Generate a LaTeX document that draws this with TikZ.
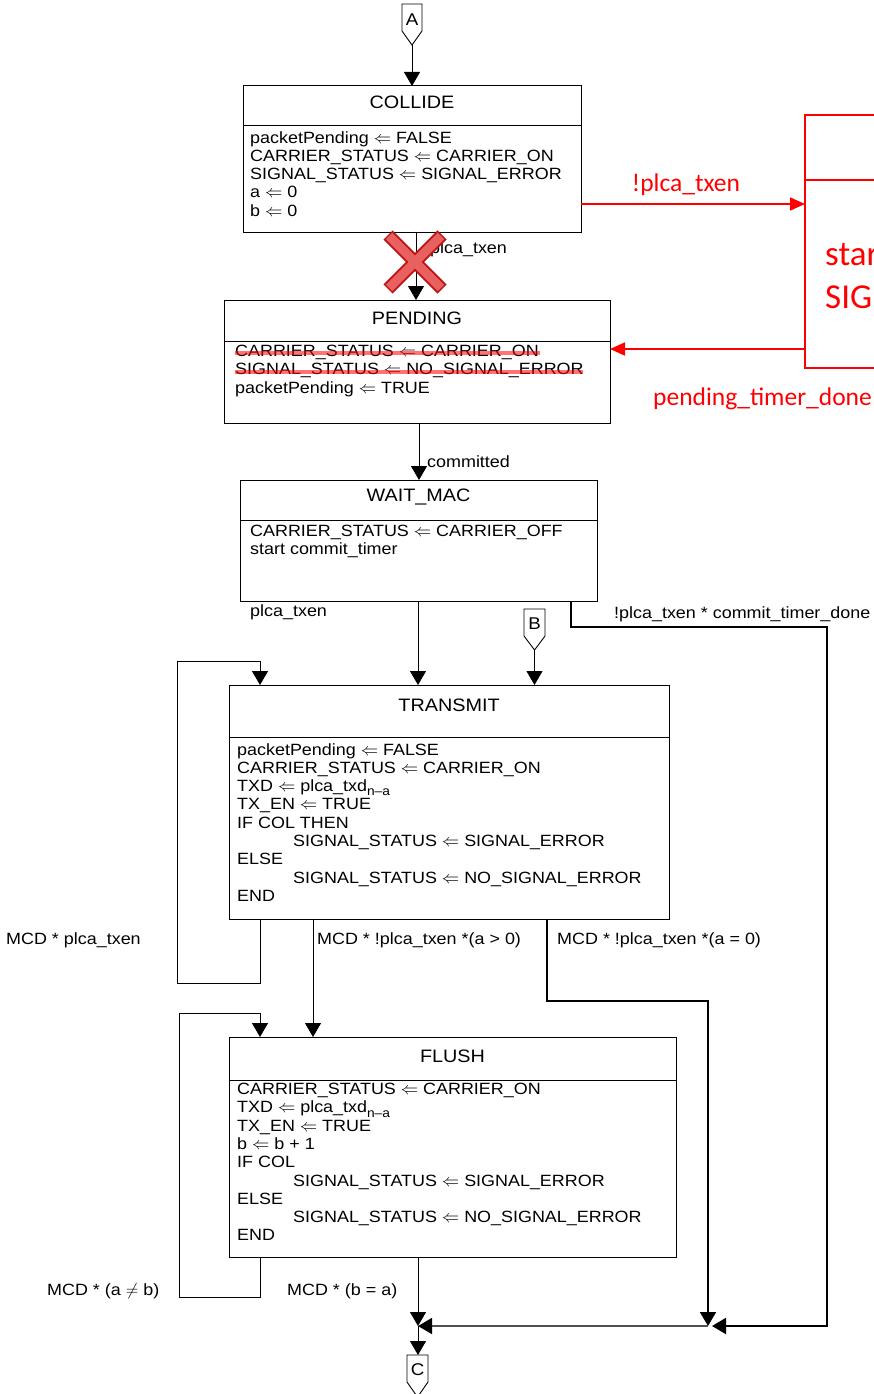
\documentclass[tikz,border=0pt]{standalone}
\usepackage{fontspec}
\setmainfont{Liberation Sans}[FakeStretch=1.1]
\newfontfamily\redfont{Carlito}
\usetikzlibrary{arrows.meta}
\newcommand{\la}{\ensuremath{\Leftarrow}}
\newcommand{\sub}[1]{\raisebox{-0.5ex}{\fontsize{12.5}{12.5}\selectfont #1}}
\definecolor{xout}{RGB}{190,20,20}
\definecolor{xin}{RGB}{232,96,96}
\definecolor{jgray}{RGB}{80,80,80}
\tikzset{
  statebox/.style 2 args={draw, line width=1pt, inner sep=0pt, outer sep=0pt, minimum width=#1, minimum height=#2},
  divider/.style={line width=1pt},
  title/.style={font=\fontsize{18}{18}\selectfont, inner sep=0pt},
  body/.style={font=\fontsize{16.3}{18.3}\selectfont, align=left, inner sep=0pt, anchor=north west},
  lbl/.style={font=\fontsize{16.3}{18}\selectfont, inner sep=0pt, anchor=west},
  arr/.style={line width=0.9pt, -{Triangle[length=14pt,width=16pt]}},
  thickarr/.style={line width=2pt, -{Triangle[length=14pt,width=16pt]}},
  redarr/.style={draw=red, line width=1.8pt, -{Triangle[length=15pt,width=13pt]}},
  redlbl/.style={text=red, font=\redfont\fontsize{25.5}{26}\selectfont, inner sep=0pt},
  redbig/.style={text=red, font=\redfont\fontsize{35}{36}\selectfont, inner sep=0pt, anchor=west},
  strike/.style={draw=red, opacity=0.55, line width=3.5pt},
  offpage/.style={draw, line width=0.9pt, fill=white},
  offtext/.style={font=\fontsize{17}{17}\selectfont, inner sep=0pt},
}
\begin{document}
\begin{tikzpicture}[x=1pt,y=-1pt]
\useasboundingbox (0,0) rectangle (874,1394);
\clip (0,0) rectangle (874,1394);

% ---- connector A
\draw[offpage] (402,4) -- (422,4) -- (422,31) -- (412,45) -- (402,31) -- cycle;
\node[offtext] (A) at (412,20) {A};
\coordinate (Atip) at (412,45);

% ---- COLLIDE
\node[statebox={338}{146}] (collide) at (412,159) {};
\draw[divider] (collide.west |- 0,126) -- (collide.east |- 0,126);
\node[title] (collideT) at (412,102) {COLLIDE};
\node[body] (collideB) at (250,131) {packetPending \la{} FALSE\\CARRIER\_STATUS \la{} CARRIER\_ON\\SIGNAL\_STATUS \la{} SIGNAL\_ERROR\\a \la{} 0\\b \la{} 0};

% ---- red box (cut by the page edge)
\node[statebox={295}{253}, draw=red, line width=1.8pt] (redbox) at (952.5,241.5) {};
\draw[draw=red, line width=1.8pt] (redbox.west |- 0,180) -- (redbox.east |- 0,180);
\node[redbig] (redS) at (825,255) {star};
\node[redbig] (redG) at (825,297) {SIG};

% ---- PENDING
\node[statebox={386}{123}] (pending) at (417,361.5) {};
\draw[divider] (pending.west |- 0,341) -- (pending.east |- 0,341);
\node[title] (pendingT) at (417,318) {PENDING};
\node[body] (pendingB) at (235,345) {CARRIER\_STATUS \la{} CARRIER\_ON\\SIGNAL\_STATUS \la{} NO\_SIGNAL\_ERROR\\packetPending \la{} TRUE};
\draw[strike] (235,353) -- (540,353);
\draw[strike] (235,372) -- (583,372);

% ---- WAIT_MAC
\node[statebox={357}{121}] (wait) at (418.5,540.5) {};
\draw[divider] (wait.west |- 0,520) -- (wait.east |- 0,520);
\node[title] (waitT) at (418.5,497) {WAIT\_MAC};
\node[body] (waitB) at (250,525) {CARRIER\_STATUS \la{} CARRIER\_OFF\\start commit\_timer};

% ---- connector B
\draw[offpage] (524,609) -- (545,609) -- (545,636) -- (534.5,650) -- (524,636) -- cycle;
\node[offtext] (B) at (534.5,624) {B};
\coordinate (Btip) at (534.5,650);

% ---- TRANSMIT
\node[statebox={440}{234}] (transmit) at (449,802) {};
\draw[divider] (transmit.west |- 0,737) -- (transmit.east |- 0,737);
\node[title] (transmitT) at (449,705) {TRANSMIT};
\node[body] (transmitB) at (237,743) {packetPending \la{} FALSE\\CARRIER\_STATUS \la{} CARRIER\_ON\\TXD \la{} plca\_txd\sub{n--a}\\TX\_EN \la{} TRUE\\IF COL THEN\\\hspace*{56pt}SIGNAL\_STATUS \la{} SIGNAL\_ERROR\\ELSE\\\hspace*{56pt}SIGNAL\_STATUS \la{} NO\_SIGNAL\_ERROR\\END};

% ---- FLUSH
\node[statebox={447}{220}] (flush) at (452.5,1147) {};
\draw[divider] (flush.west |- 0,1080) -- (flush.east |- 0,1080);
\node[title] (flushT) at (452.5,1056) {FLUSH};
\node[body] (flushB) at (237,1083) {CARRIER\_STATUS \la{} CARRIER\_ON\\TXD \la{} plca\_txd\sub{n--a}\\TX\_EN \la{} TRUE\\b \la{} b + 1\\IF COL\\\hspace*{56pt}SIGNAL\_STATUS \la{} SIGNAL\_ERROR\\ELSE\\\hspace*{56pt}SIGNAL\_STATUS \la{} NO\_SIGNAL\_ERROR\\END};

% ---- junctions and connector C
\coordinate (J1) at (708,1326);
\coordinate (J1r) at (712,1326);
\coordinate (J2) at (418,1326);
\draw[offpage] (407,1355) -- (428,1355) -- (428,1382) -- (417.5,1397) -- (407,1382) -- cycle;
\node[offtext] (C) at (417.5,1370) {C};
\coordinate (Ctop) at (418,1355);

% ---- connectors
\draw[arr] (Atip) -- (collide.north);
\draw[arr] (collide.south -| 416,0) -- (pending.north -| 416,0);
\draw[redarr] (collide.east |- 0,204) -- (redbox.west |- 0,204);
\draw[redarr] (redbox.west |- 0,349) -- (pending.east |- 0,349);
\draw[arr] (pending.south -| 419,0) -- (wait.north -| 419,0);
\draw[arr] (wait.south -| 418,0) -- (transmit.north -| 418,0);
\draw[arr] (Btip) -- (transmit.north -| Btip);
\draw[thickarr] (wait.south -| 571,0) |- (827,627) |- (J1r);
\draw[arr] (transmit.south -| 260,0) |- (177,983) |- (260,661) -- (transmit.north -| 260,0);
\draw[arr] (transmit.south -| 313,0) -- (flush.north -| 313,0);
\draw[thickarr] (transmit.south -| 547,0) |- (708,1001) -- (J1);
\draw[arr] (flush.south -| 260,0) |- (179,1297) |- (260,1013) -- (flush.north -| 260,0);
\draw[arr] (flush.south -| J2) -- (J2);
\draw[line width=1.4pt, draw=jgray, -{Triangle[length=14pt,width=16pt,color=black]}] (J1) -- (J2);
\draw[arr] (J2) -- (Ctop);

% ---- labels
\node[lbl] (l1) at (425,249) {!plca\_txen};
\node[lbl] (l2) at (427,462) {committed};
\node[lbl] (l3) at (250,612) {plca\_txen};
\node[lbl] (l4) at (614,614) {!plca\_txen * commit\_timer\_done};
\node[lbl] (l5) at (6,940) {MCD * plca\_txen};
\node[lbl] (l6) at (317,940) {MCD * !plca\_txen *(a > 0)};
\node[lbl] (l7) at (557,940) {MCD * !plca\_txen *(a = 0)};
\node[lbl] (l8) at (47,1291) {MCD * (a \ensuremath{\neq} b)};
\node[lbl] (l9) at (287,1291) {MCD * (b = a)};
\node[redlbl] (r1) at (686,185) {!plca\_txen};
\node[redlbl, anchor=west] (r2) at (653,399) {pending\_timer\_done};

% ---- red cross
\draw[xout, line width=13pt] (388,235) -- (442,289);
\draw[xout, line width=13pt] (442,235) -- (388,289);
\draw[xin, line width=9pt, shorten <=1.5pt, shorten >=1.5pt] (388,235) -- (442,289);
\draw[xin, line width=9pt, shorten <=1.5pt, shorten >=1.5pt] (442,235) -- (388,289);
\end{tikzpicture}
\end{document}
